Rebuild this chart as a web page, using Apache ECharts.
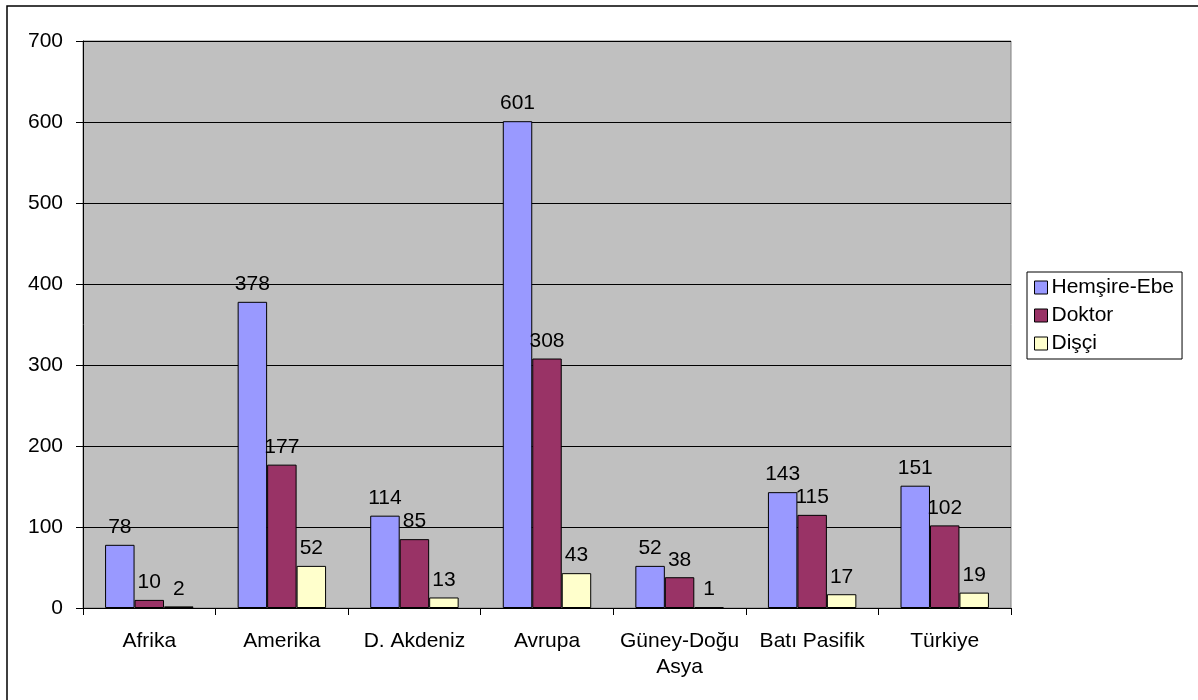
<!DOCTYPE html>
<html>
<head>
<meta charset="utf-8">
<style>
html,body{margin:0;padding:0;background:#fff;}
#c{width:1198px;height:700px;}
</style>
<script src="https://cdn.jsdelivr.net/npm/echarts@6/dist/echarts.min.js"></script>
</head>
<body>
<div id="c"></div>
<script>
const categories = ['Afrika', 'Amerika', 'D. Akdeniz', 'Avrupa', 'Güney-Doğu Asya', 'Batı Pasifik', 'Türkiye'];
const hemsire = [78, 378, 114, 601, 52, 143, 151];
const doktor = [10, 177, 85, 308, 38, 115, 102];
const disci = [2, 52, 13, 43, 1, 17, 19];
const seriesNames = ['Hemşire-Ebe', 'Doktor', 'Dişçi'];
const colors = ['#9999FF', '#993366', '#FFFFCC'];

const FONT = 'Arial, "Liberation Sans", sans-serif';
const FS = 21;

const chart = echarts.init(document.getElementById('c'), null, {renderer: 'canvas'});

function mk(name, data, color) {
  return {
    name: name,
    type: 'bar',
    data: data,
    barGap: '0%',
    barCategoryGap: '33.3%',
    itemStyle: {color: color, borderColor: '#000', borderWidth: 1},
    label: {show: true, position: 'top', distance: 7, color: '#000', fontFamily: FONT, fontSize: FS},
    emphasis: {disabled: true},
    animation: false
  };
}

chart.setOption({
  animation: false,
  backgroundColor: '#fff',
  grid: {left: 83, right: 187, top: 41, bottom: 92, show: true, backgroundColor: '#C0C0C0', borderColor: '#808080', borderWidth: 1},
  graphic: [{
    type: 'rect', shape: {x: 7, y: 6, width: 1210, height: 720},
    style: {fill: 'none', stroke: '#000', lineWidth: 1.5}, silent: true, z: 100
  }],
  legend: {
    orient: 'vertical', left: 1027, top: 272,
    padding: [5, 8, 5, 7], itemGap: 7, itemWidth: 13, itemHeight: 13,
    icon: 'rect',
    borderColor: '#000', borderWidth: 1, backgroundColor: '#fff',
    itemStyle: {borderColor: '#000', borderWidth: 1},
    textStyle: {fontFamily: FONT, fontSize: FS, color: '#000', padding: [0, 0, 0, -1]},
    data: seriesNames
  },
  xAxis: {
    type: 'category', data: categories,
    axisLine: {show: true, lineStyle: {color: '#000', width: 1}},
    axisTick: {show: true, alignWithLabel: false, length: 7, lineStyle: {color: '#000'}},
    axisLabel: {
      color: '#000', fontFamily: FONT, fontSize: FS, margin: 20, interval: 0, lineHeight: 26,
      formatter: function (v) { return v.length > 13 ? v.replace(/ (?=\S+$)/, '\n') : v; }
    },
    splitLine: {show: false}
  },
  yAxis: {
    type: 'value', min: 0, max: 700, interval: 100,
    axisLine: {show: true, lineStyle: {color: '#000', width: 1}},
    axisTick: {show: true, length: 7, lineStyle: {color: '#000'}},
    axisLabel: {color: '#000', fontFamily: FONT, fontSize: FS, margin: 20},
    splitLine: {show: true, lineStyle: {color: '#000', width: 1}}
  },
  series: [
    mk(seriesNames[0], hemsire, colors[0]),
    mk(seriesNames[1], doktor, colors[1]),
    mk(seriesNames[2], disci, colors[2])
  ]
});
</script>
</body>
</html>
